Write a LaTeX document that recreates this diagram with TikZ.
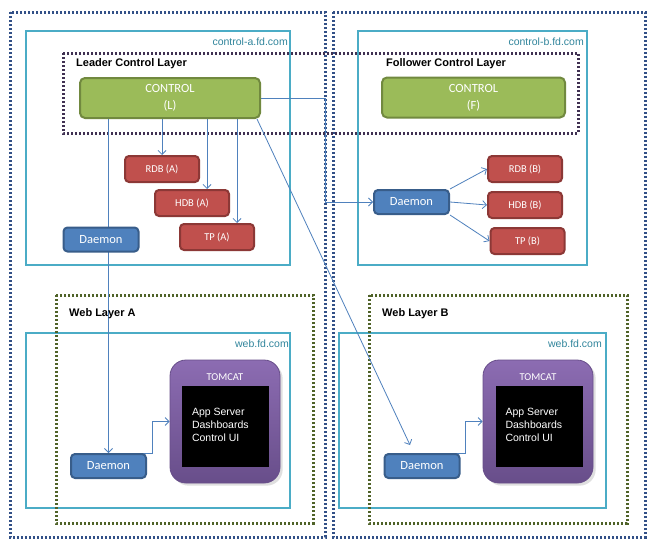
\documentclass[tikz,border=0pt]{standalone}
\usepackage{fontspec}
\setmainfont{Liberation Sans}
\newfontfamily\calib{Carlito}
\usetikzlibrary{arrows.meta,positioning,shadows}
\pgfdeclarelayer{background}
\pgfdeclarelayer{wires}
\pgfsetlayers{background,wires,main}
\definecolor{fdnavy}{RGB}{50,80,135}
\definecolor{fdplum}{RGB}{64,49,82}
\definecolor{fdolive}{RGB}{79,98,40}
\definecolor{fdcyan}{RGB}{75,172,198}
\definecolor{fdhost}{RGB}{49,133,156}
\definecolor{fdblue}{RGB}{79,129,189}
\definecolor{fdblueD}{RGB}{56,93,138}
\definecolor{fdgreen}{RGB}{155,187,89}
\definecolor{fdgreenD}{RGB}{113,137,63}
\definecolor{fdred}{RGB}{192,80,77}
\definecolor{fdredD}{RGB}{140,56,54}
\definecolor{fdpurp}{RGB}{140,108,178}
\definecolor{fdpurpD}{RGB}{104,78,138}

\begin{document}
\begin{tikzpicture}[x=1pt, y=-1pt,
  ctl/.style={rectangle, rounded corners=5pt, draw=fdgreenD, line width=2pt, fill=fdgreen,
              minimum width=180pt, minimum height=40pt, align=center, text=white,
              font=\calib\fontsize{12.5}{17}\selectfont},
  db/.style={rectangle, rounded corners=4pt, draw=fdredD, line width=2pt, fill=fdred,
             minimum width=74pt, minimum height=26pt, text=white, font=\calib\fontsize{10.5}{12}\selectfont},
  dmn/.style={rectangle, rounded corners=4pt, draw=fdblueD, line width=2pt, fill=fdblue,
              minimum width=75pt, minimum height=24pt, text=white, font=\calib\fontsize{12.5}{14}\selectfont},
  tcat/.style={rectangle, rounded corners=16pt, draw=fdpurpD, line width=0.8pt, top color=fdpurp,
               bottom color=fdpurpD, minimum width=110pt, minimum height=123pt, drop shadow={opacity=0.25}},
  scr/.style={rectangle, fill=black, minimum width=87pt, minimum height=81pt},
  scrt/.style={text=white, align=left, inner sep=0pt, font=\fontsize{10.5}{13}\selectfont},
  tl/.style={text=white, inner sep=0pt, font=\calib\fontsize{10.5}{12}\selectfont},
  frm/.style={draw=fdnavy, line width=3pt, dash pattern=on 2.2pt off 1.8pt},
  lay/.style={draw=fdplum, line width=3pt, dash pattern=on 2.2pt off 1.8pt},
  wl/.style={draw=fdolive, line width=3pt, dash pattern=on 2.2pt off 1.8pt},
  host/.style={draw=fdcyan, line width=2.7pt},
  hl/.style={text=fdhost, inner sep=0pt, anchor=east, font=\fontsize{10.5}{12}\selectfont},
  tt/.style={inner sep=0pt, anchor=west, font=\bfseries\fontsize{11}{13}\selectfont},
  arr/.style={-{Straight Barb[length=4pt,width=8pt]}, fdblue, line width=0.8pt},
  node distance=8pt]

\useasboundingbox (0,0) rectangle (667,554);

\begin{pgfonlayer}{background}
\fill[white] (0,0) rectangle (667,554);
% servers
\draw[frm] (10,12) rectangle (325,537);
\draw[frm] (333,12) rectangle (645,537);
% hosts
\draw[host] (26,31) rectangle (290,265);
\draw[host] (358,31) rectangle (587,265);
\draw[host] (26,333) rectangle (290,508);
\draw[host] (339,333) rectangle (606,508);
% layers
\draw[lay] (63,53) rectangle (578,133);
\draw[wl] (56,295) rectangle (313,523);
\draw[wl] (369,295) rectangle (627,523);
\end{pgfonlayer}

\node[hl] (hca) at (288,42) {control-a.fd.com};
\node[hl] (hcb) at (584,42) {control-b.fd.com};
\node[hl] (hwa) at (289,344) {web.fd.com};
\node[hl] (hwb) at (602,344) {web.fd.com};
\node[tt] (lead) at (76,64) {Leader Control Layer};
\node[tt] (foll) at (386,64) {Follower Control Layer};
\node[tt] (wla) at (69,314) {Web Layer A};
\node[tt] (wlb) at (382,314) {Web Layer B};

\node[ctl] (ctlL) at (170,98) {CONTROL\\(L)};
\node[ctl, minimum width=183pt] (ctlF) at (473.5,97.5) {CONTROL\\(F)};
\node[db] (rdbA) at (162,169) {RDB (A)};
\node[db] (hdbA) at (192,203) {HDB (A)};
\node[db] (tpA) at (217,237) {TP (A)};
\node[dmn] (dmA) at (101,239.5) {Daemon};
\node[dmn] (dmB) at (411.5,202) {Daemon};
\node[db] (rdbB) at (525,169) {RDB (B)};
\node[db, below=of rdbB] (hdbB) {HDB (B)};
\node[db, below=of hdbB, xshift=2.5pt] (tpB) {TP (B)};

\node[dmn] (wdA) at (108.5,466) {Daemon};
\node[dmn] (wdB) at (422,466) {Daemon};
\node[tcat] (tcA) at (225,421.5) {};
\node[tcat] (tcB) at (538,421.5) {};
\node[tl] (tcAl) at (225,377) {TOMCAT};
\node[tl] (tcBl) at (538,377) {TOMCAT};
\node[scr] (scrA) at (225.5,426.5) {};
\node[scr] (scrB) at (539,426.5) {};
\node[scrt, anchor=north west] (appA) at ([shift={(10,22)}]scrA.north west) {App Server\\Dashboards\\Control UI};
\node[scrt, anchor=north west] (appB) at ([shift={(10,22)}]scrB.north west) {App Server\\Dashboards\\Control UI};

\begin{pgfonlayer}{wires}
\draw[arr] (rdbA.north |- ctlL.south) -- (rdbA.north);
\draw[arr] ([xshift=15pt]hdbA.north |- ctlL.south) -- ([xshift=15pt]hdbA.north);
\draw[arr] ([xshift=20pt]tpA.north |- ctlL.south) -- ([xshift=20pt]tpA.north);
\draw[arr] (wdA.north |- ctlL.south) -- (wdA.north);
\draw[arr] (ctlL.east) -- ++(64,0) |- (dmB.west);
\draw[arr] ([xshift=-4pt]ctlL.south east) -- ([xshift=-12pt,yshift=8pt]wdB.north);
\draw[arr] (dmB.north east) -- (rdbB.west);
\draw[arr] (dmB.east) -- (hdbB.west);
\draw[arr] (dmB.south east) -- (tpB.west);
\draw[arr] ([xshift=-12pt]wdA.north east) -- ++(17,0) |- (tcA.west);
\draw[arr] ([xshift=-12pt]wdB.north east) -- ++(17,0) |- (tcB.west);
\end{pgfonlayer}
\end{tikzpicture}
\end{document}
